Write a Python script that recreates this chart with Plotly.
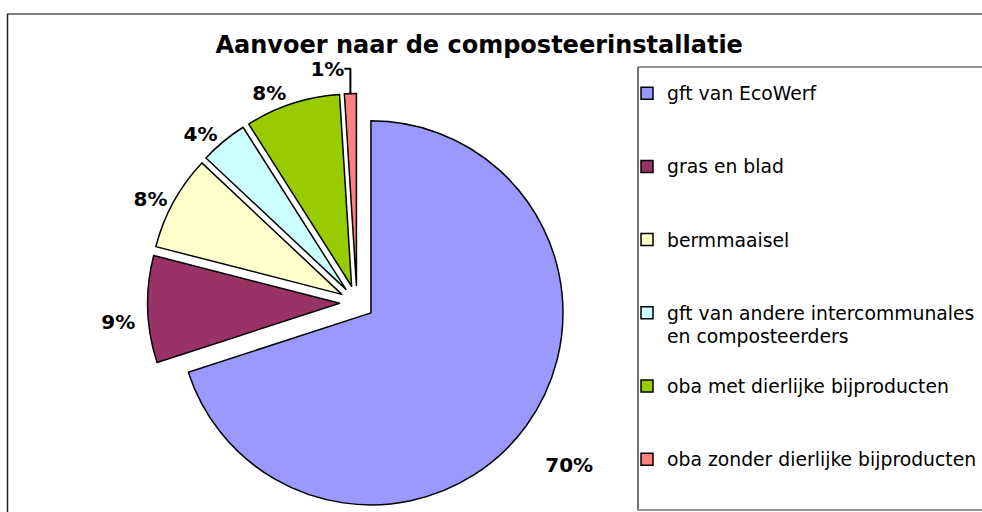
import plotly.graph_objects as go

# Data
categories = [
    "gft van EcoWerf",
    "gras en blad",
    "bermmaaisel",
    "gft van andere intercommunales<br>en composteerders",
    "oba met dierlijke bijproducten",
    "oba zonder dierlijke bijproducten",
]
shares = [70, 9, 8, 4, 8, 1]
colors = ['#9999FF', '#993366', '#FFFFCC', '#CCFFFF', '#99CC00', '#FF8080']

W, H = 982, 512


def px(x):
    return x / W


def py(y):
    return 1 - y / H


# legend labels padded to 3 lines so entries get Excel-like spacing
# (last one stays short so the legend fits inside the figure)
legend_labels = []
for i, c in enumerate(categories):
    lines = c.split("<br>")
    pad = 0 if i == len(categories) - 1 else 3 - len(lines)
    shown = "<br>".join(f"<span style='font-size:18.8px'>{s}</span>" for s in lines)
    legend_labels.append(shown + "<br> " * pad)

# blank lines above some percentages push them further from the pie, like Excel
blank_above = [2, 1, 0, 0, 0, 0]
text_templates = ["\u00a0<br>" * b + "%{percent}" for b in blank_above]

fig = go.Figure()

fig.add_trace(go.Pie(
    labels=legend_labels,
    values=shares,
    customdata=[c.replace("<br>", " ") for c in categories],
    sort=False,
    direction='clockwise',
    rotation=0,
    pull=0.09,
    marker=dict(colors=colors, line=dict(color='black', width=1.5)),
    texttemplate=text_templates,
    textposition='outside',
    textfont=dict(family='DejaVu Sans', size=20, color='black', weight='bold'),
    hovertemplate="%{customdata}: %{percent}<extra></extra>",
    domain=dict(x=[0.1135, 0.6135], y=[0, 0.8176]),
))

fig.update_layout(
    width=W,
    height=H,
    autosize=False,
    margin=dict(l=0, r=0, t=0, b=0, autoexpand=False),
    paper_bgcolor='white',
    plot_bgcolor='white',
    font=dict(family='DejaVu Sans', color='black'),
    title=dict(
        text="<b>Aanvoer naar de composteerinstallatie</b>",
        x=0.488, xanchor='center',
        y=py(45), yanchor='middle',
        font=dict(family='DejaVu Sans', size=24, color='black'),
    ),
    legend=dict(
        x=px(627), xanchor='left',
        y=py(75), yanchor='top',
        valign='top',
        font=dict(family='DejaVu Sans', size=18, color='black'),
        bgcolor='rgba(0,0,0,0)',
        borderwidth=0,
    ),
    shapes=[
        # outer chart frame (top and left edges visible)
        dict(type='line', xref='paper', yref='paper',
             x0=px(7), x1=1.1, y0=py(14), y1=py(14),
             line=dict(color='#808080', width=2)),
        dict(type='line', xref='paper', yref='paper',
             x0=px(7.5), x1=px(7.5), y0=py(14), y1=-0.1,
             line=dict(color='#222222', width=1.5)),
        # legend box (right side runs off the picture)
        dict(type='line', xref='paper', yref='paper',
             x0=px(638), x1=1.1, y0=py(67), y1=py(67),
             line=dict(color='#707070', width=1.5)),
        dict(type='line', xref='paper', yref='paper',
             x0=px(638), x1=px(638), y0=py(67), y1=py(510),
             line=dict(color='#444444', width=1.5)),
        dict(type='line', xref='paper', yref='paper',
             x0=px(638), x1=1.1, y0=py(510), y1=py(510),
             line=dict(color='#707070', width=1.5)),
    ],
)

fig.write_html(
    "out.html",
    config={'responsive': False, 'displayModeBar': False},
    post_script="document.body.style.margin='0';document.body.style.overflow='hidden';",
)
